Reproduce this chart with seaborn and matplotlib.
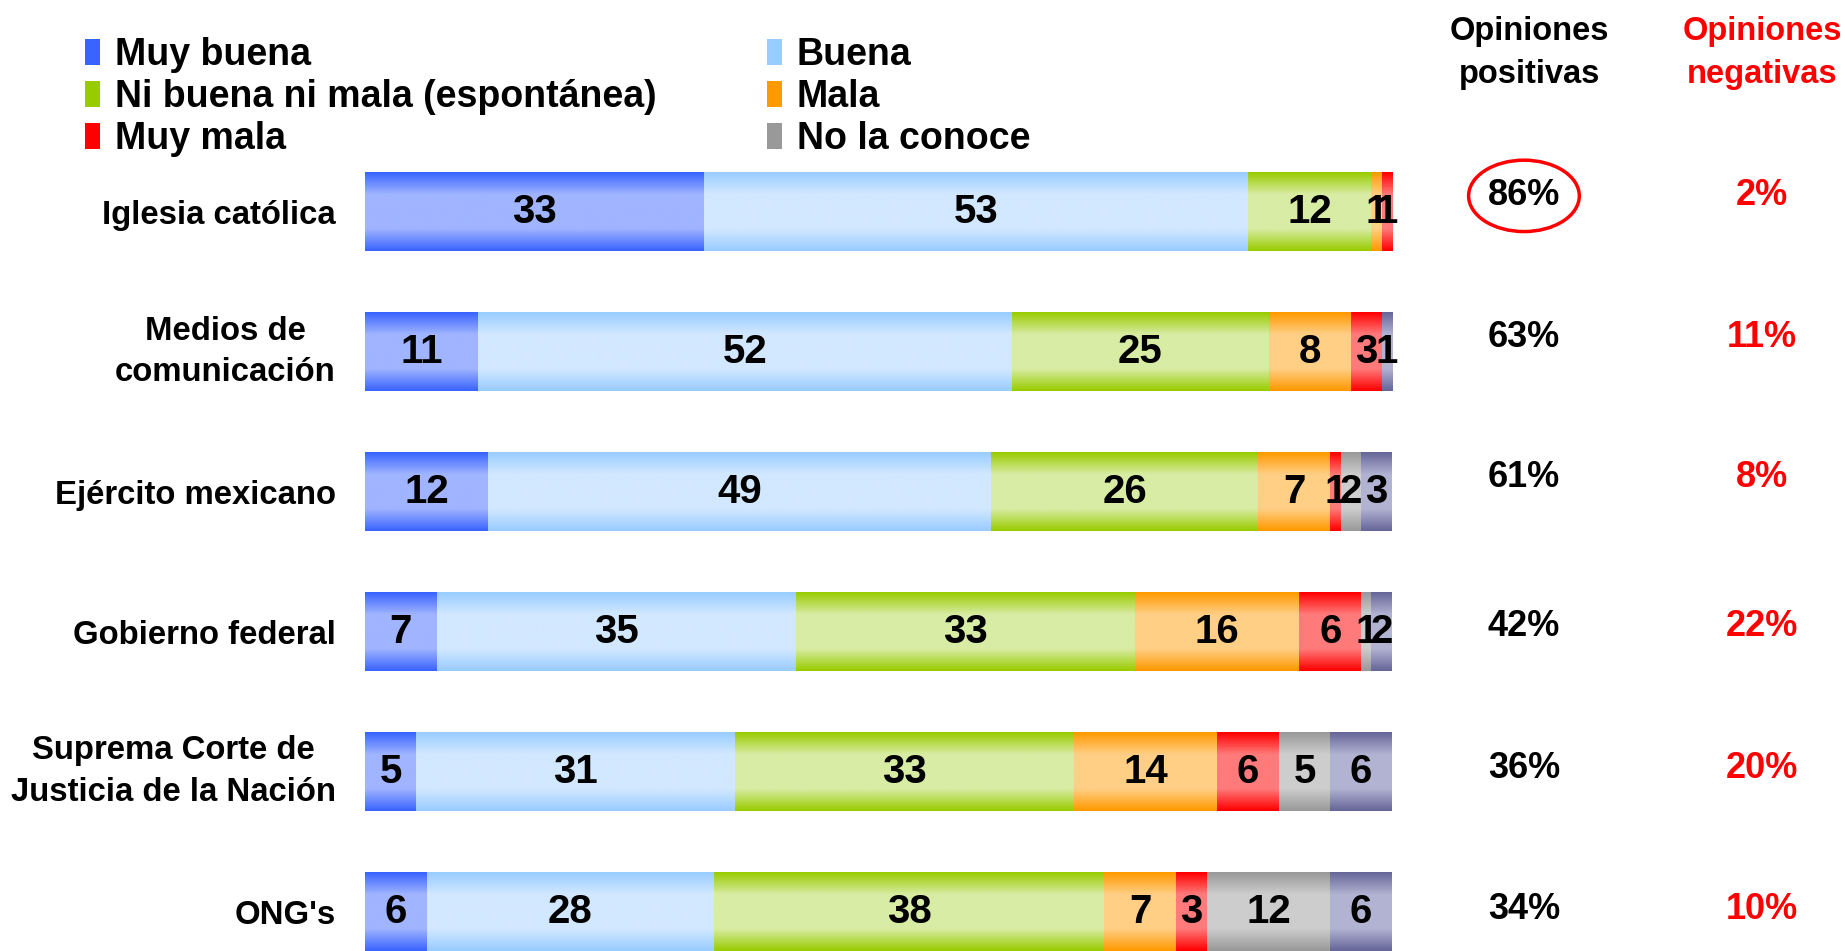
import matplotlib
matplotlib.use('Agg')
import matplotlib.pyplot as plt
import matplotlib.transforms as mtransforms
from matplotlib.colors import LinearSegmentedColormap
from matplotlib.patches import Patch, Ellipse
import numpy as np
import pandas as pd
import seaborn as sns

sns.set_theme(style='white')
plt.rcParams['font.family'] = ['Liberation Sans', 'DejaVu Sans']
plt.rcParams['text.color'] = 'black'
plt.rcParams['ytick.color'] = 'black'

# Data (percent of respondents)
categories = ['Iglesia católica', 'Medios de\ncomunicación', 'Ejército mexicano',
              'Gobierno federal', 'Suprema Corte de\nJusticia de la Nación', "ONG's"]
muy_buena = [33, 11, 12, 7, 5, 6]
buena = [53, 52, 49, 35, 31, 28]
ni_buena_ni_mala = [12, 25, 26, 33, 33, 38]
mala = [1, 8, 7, 16, 14, 7]
muy_mala = [1, 3, 1, 6, 6, 3]
no_la_conoce = [0, 0, 2, 1, 5, 12]
ns_nc = [0, 1, 3, 2, 6, 6]
positivas = [86, 63, 61, 42, 36, 34]
negativas = [2, 11, 8, 22, 20, 10]

series_names = ['Muy buena', 'Buena', 'Ni buena ni mala (espontánea)', 'Mala', 'Muy mala',
                'No la conoce', 'NS/NC']
series_values = [muy_buena, buena, ni_buena_ni_mala, mala, muy_mala, no_la_conoce, ns_nc]
# (edge colour, centre colour) of each gradient
series_colors = [('#3a64ff', '#a0b4ff'), ('#99ccff', '#d2e8ff'), ('#99cc00', '#d8eca4'),
                 ('#ff9900', '#ffcf85'), ('#ff0000', '#ff7a7a'), ('#999999', '#cdcdcd'),
                 ('#666699', '#b2b2d2')]

df = pd.DataFrame(dict(zip(series_names, series_values)), index=categories)
cum = df.cumsum(axis=1)

fig = plt.figure(figsize=(18.45, 9.51), dpi=100)
ax = fig.add_axes([0.1978, 0.0, 0.5566, 0.8507])
bar_h = 0.56

# stacked bars: draw cumulative totals from the last series to the first
for name, (edge, centre) in reversed(list(zip(series_names, series_colors))):
    sns.barplot(x=cum[name].values, y=categories, orient='h', color=centre,
                saturation=1, width=bar_h, ax=ax)

# gradient fill + value labels for each segment
grad = np.linspace(0, 1, 100).reshape(-1, 1)
for name, (edge, centre) in zip(series_names, series_colors):
    cmap = LinearSegmentedColormap.from_list(
        name, [(0, edge), (0.28, centre), (0.72, centre), (1, edge)])
    for i, cat in enumerate(categories):
        val = df.loc[cat, name]
        if val == 0:
            continue
        left = cum.loc[cat, name] - val
        ax.imshow(grad, extent=[left, left + val, i + bar_h / 2, i - bar_h / 2],
                  aspect='auto', cmap=cmap, zorder=3, interpolation='bilinear')
        ax.text(left + val / 2, i, str(val), ha='center', va='center', fontsize=29,
                fontweight='bold', color='black', zorder=4)

ax.set_xlim(0, 100)
ax.set_ylim(5.28, -0.5)
ax.set_yticks(range(len(categories)))
ax.set_yticklabels(categories, fontsize=23.7, fontweight='bold', multialignment='center',
                   linespacing=1.45, color='black')
for lbl in ax.get_yticklabels():
    if '\n' in lbl.get_text():
        lbl.set_verticalalignment('center')
ax.tick_params(axis='y', left=False, pad=15)
ax.set_xticks([])
ax.set_xlabel('')
ax.set_ylabel('')
sns.despine(ax=ax, left=True, bottom=True)

# right-hand summary columns
pos_x, neg_x = 0.826, 0.955
row_shift = [-0.115, -0.105, -0.105, -0.035, -0.025, -0.015]
fig.text(pos_x + 0.003, 0.944, 'Opiniones\npositivas', ha='center', va='center', fontsize=23.5,
         fontweight='bold', color='black', linespacing=1.48)
fig.text(neg_x, 0.944, 'Opiniones\nnegativas', ha='center', va='center', fontsize=23.5,
         fontweight='bold', color='#ff0000', linespacing=1.48)
trans = mtransforms.blended_transform_factory(fig.transFigure, ax.transData)
for i in range(len(categories)):
    ax.text(pos_x, i + row_shift[i], f'{positivas[i]}%', transform=trans, ha='center',
            va='center', fontsize=26, fontweight='bold', color='black', clip_on=False)
    ax.text(neg_x, i + row_shift[i], f'{negativas[i]}%', transform=trans, ha='center',
            va='center', fontsize=26, fontweight='bold', color='#ff0000', clip_on=False)
ax.add_patch(Ellipse((pos_x, row_shift[0]), 0.06, 0.51, transform=trans, fill=False,
                     edgecolor='#ff0000', lw=2.5, clip_on=False))

# legend (the NS/NC series is not listed in the original)
handles = [Patch(facecolor=c[0], edgecolor='none') for c in series_colors[:6]]
order = [0, 2, 4, 1, 3, 5]
fig.legend([handles[k] for k in order], [series_names[k] for k in order],
           loc='upper left', bbox_to_anchor=(0.038, 0.977), ncol=2, frameon=False,
           prop={'weight': 'bold', 'size': 27}, handlelength=0.4,
           handleheight=0.7, handletextpad=0.4, labelspacing=0.16, columnspacing=2.93,
           borderaxespad=0)

fig.savefig('out.png', dpi=100)
